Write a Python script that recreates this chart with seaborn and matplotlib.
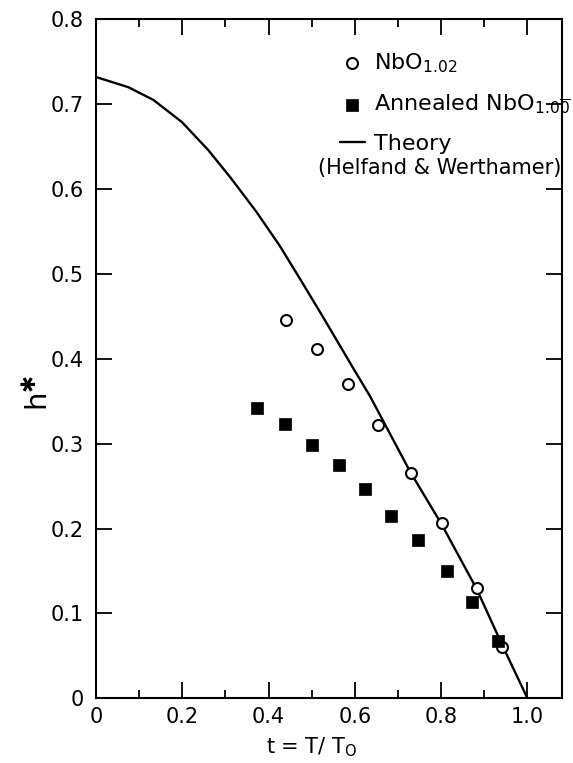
import matplotlib
matplotlib.use("Agg")
import matplotlib.pyplot as plt
import seaborn as sns
import pandas as pd
from matplotlib.ticker import MultipleLocator

# ---- data ----
nbo102_t = [0.440, 0.513, 0.584, 0.654, 0.729, 0.803, 0.882, 0.942]
nbo102_h = [0.446, 0.412, 0.370, 0.322, 0.266, 0.206, 0.130, 0.061]

annealed_t = [0.374, 0.438, 0.501, 0.564, 0.623, 0.683, 0.747, 0.813, 0.871, 0.931]
annealed_h = [0.342, 0.323, 0.299, 0.275, 0.2465, 0.215, 0.186, 0.150, 0.113, 0.067]

theory_t = [0.0, 0.075, 0.133, 0.199, 0.260, 0.311, 0.372, 0.426, 0.473, 0.527,
            0.596, 0.635, 0.728, 0.801, 0.882, 0.944, 1.0]
theory_h = [0.732, 0.720, 0.705, 0.679, 0.646, 0.614, 0.573, 0.533, 0.494, 0.4485,
            0.389, 0.356, 0.267, 0.205, 0.129, 0.060, 0.0]

x_ticks = [0, 0.2, 0.4, 0.6, 0.8, 1.0]
x_ticklabels = ["0", "0.2", "0.4", "0.6", "0.8", "1.0"]
y_ticks = [0, 0.1, 0.2, 0.3, 0.4, 0.5, 0.6, 0.7, 0.8]
y_ticklabels = ["0", "0.1", "0.2", "0.3", "0.4", "0.5", "0.6", "0.7", "0.8"]

label_circ = r"NbO$_{\mathregular{1.02}}$"
label_sq = r"Annealed NbO$_{\mathregular{1.0\overline{0}}}$"
label_th = "Theory"
label_th2 = "(Helfand & Werthamer)"

df_c = pd.DataFrame({"t": nbo102_t, "h": nbo102_h})
df_s = pd.DataFrame({"t": annealed_t, "h": annealed_h})
df_th = pd.DataFrame({"t": theory_t, "h": theory_h})

sns.set_style("ticks")
plt.rcParams["font.family"] = ["DejaVu Sans"]
plt.rcParams["mathtext.default"] = "regular"
for k in ["text.color", "axes.labelcolor", "xtick.color", "ytick.color", "axes.edgecolor"]:
    plt.rcParams[k] = "black"

fig = plt.figure(figsize=(5.73, 7.63), dpi=100)
ax = fig.add_axes([96 / 573, 1 - 698.3 / 763, (562 - 96) / 573, (698.3 - 19.3) / 763])

sns.lineplot(data=df_th, x="t", y="h", ax=ax, color="black", linewidth=1.7,
             label=label_th, sort=False)
sns.scatterplot(data=df_c, x="t", y="h", ax=ax, marker="o", s=62,
                facecolor="white", edgecolor="black", linewidth=1.5,
                label=label_circ, zorder=3)
sns.scatterplot(data=df_s, x="t", y="h", ax=ax, marker="s", s=80,
                color="black", edgecolor="black", linewidth=0.5,
                label=label_sq, zorder=3)

ax.set_xlim(0, 1.08)
ax.set_ylim(0, 0.8)

ax.set_xticks(x_ticks)
ax.set_xticklabels(x_ticklabels)
ax.xaxis.set_minor_locator(MultipleLocator(0.1))
ax.set_yticks(y_ticks)
ax.set_yticklabels(y_ticklabels)

ax.tick_params(axis="both", which="major", direction="in", length=11.5, width=1.3,
               labelsize=15, top=True, right=True, color="black", labelcolor="black")
ax.tick_params(axis="x", which="minor", direction="in", length=5.5, width=1.3,
               top=True, bottom=True)
ax.tick_params(axis="x", which="major", pad=6)
ax.tick_params(axis="y", which="major", pad=9)
for sp in ax.spines.values():
    sp.set_linewidth(1.5)
    sp.set_color("black")
    sp.set_visible(True)

ax.set_xlabel(r"t = T/ T$_{\mathregular{O}}$", fontsize=15)
ax.set_ylabel("h$^{\u2731}$", fontsize=21, rotation=90)
ax.xaxis.set_label_coords(0.5 / 1.08, -0.055)
ax.yaxis.set_label_coords(-0.09, 0.36 / 0.8)

handles, labels = ax.get_legend_handles_labels()
order = [labels.index(label_circ), labels.index(label_sq), labels.index(label_th)]
leg = ax.legend([handles[i] for i in order], [labels[i] for i in order],
                loc="upper left", bbox_to_anchor=(0.505, 0.966), frameon=False,
                fontsize=16, handlelength=1.1, handletextpad=0.4,
                labelspacing=0.8, borderaxespad=0.0)

ax.text(0.514, 0.6246, label_th2, transform=ax.transData, fontsize=15,
        ha="left", va="center", clip_on=False)

fig.savefig("out.png", dpi=100, facecolor="white")
